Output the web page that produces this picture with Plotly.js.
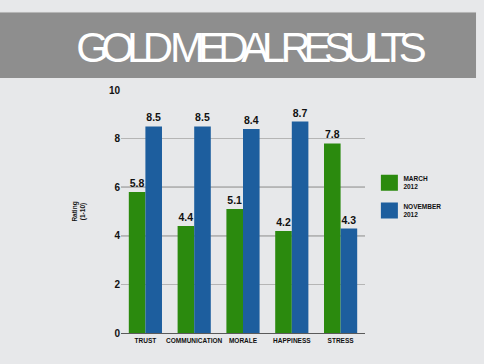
<!DOCTYPE html>
<html><head><meta charset="utf-8">
<script src="https://cdn.plot.ly/plotly-3.0.1.min.js"></script>
<style>html,body{margin:0;padding:0;background:#e7e8ea;}</style>
</head><body>
<div id="chart" style="width:484px;height:364px;"></div>
<script>
const categories = ["TRUST", "COMMUNICATION", "MORALE", "HAPPINESS", "STRESS"];
const march = [5.8, 4.4, 5.1, 4.2, 7.8];
const november = [8.5, 8.5, 8.4, 8.7, 4.3];
const seriesNames = ["MARCH<br>2012", "NOVEMBER<br>2012"];
const yTicks = [0, 2, 4, 6, 8, 10];
const darkGrid = [4, 6];

const FONT = "'Liberation Sans', Arial, sans-serif";
const GREEN = "#2b8a0e", BLUE = "#1d5e9e";

const mk = (name, vals, color, grp) => ({
  type: "bar", x: categories, y: vals, name: name, legendgroup: grp,
  marker: {color: color, line: {width: 0}},
  text: vals.map(v => v.toFixed(1)), textposition: "outside",
  textfont: {family: FONT, size: 10.5, color: "#111", weight: "bold"},
  cliponaxis: false, hoverinfo: "skip"
});

const shapes = [
  {type: "rect", xref: "paper", yref: "paper", x0: -0.5, x1: 1.455, y0: 1.049, y1: 1.321,
   fillcolor: "#8e8e8e", line: {width: 0}, layer: "below"},
  {type: "line", xref: "paper", yref: "paper", x0: -0.5, x1: 1.455, y0: 1.319, y1: 1.319,
   line: {color: "#b8b8b8", width: 1}, layer: "below"}
].concat(darkGrid.map(v => ({type: "line", xref: "paper", yref: "y", x0: 0, x1: 1, y0: v, y1: v,
   line: {color: "#5a5a5a", width: 1}, layer: "below"})));

const layout = {
  width: 484, height: 364,
  paper_bgcolor: "#e7e8ea", plot_bgcolor: "#e7e8ea",
  margin: {l: 121, r: 119, t: 90, b: 31},
  title: {text: "GOLD MEDAL RESULTS", x: 0.512, xanchor: "center", y: 0.87, yanchor: "middle",
          font: {family: "'Liberation Sans', Arial, sans-serif", size: 42, color: "#ffffff"}},
  barmode: "group", bargap: 0.32, bargroupgap: 0,
  showlegend: true,
  legend: {x: 1.018, y: 0.68, xanchor: "left", yanchor: "top", bgcolor: "rgba(0,0,0,0)",
           font: {family: FONT, size: 6.5, color: "#111", weight: "bold"},
           itemwidth: 30, traceorder: "grouped", tracegroupgap: 8},
  xaxis: {tickfont: {family: FONT, size: 6.5, color: "#111", weight: "bold"}, showgrid: false,
          showline: false, ticks: "", tickangle: 0, automargin: false, ticklabelstandoff: 2},
  yaxis: {range: [0, 10], tickvals: yTicks, ticktext: yTicks.map(String), showgrid: true,
          gridcolor: "#b5b5b5", gridwidth: 1, zeroline: true, zerolinecolor: "#5a5a5a", zerolinewidth: 1,
          tickfont: {family: FONT, size: 10, color: "#111", weight: "bold"}, ticks: "", automargin: false,
          title: {text: "Rating<br>(1-10)", standoff: 22, font: {family: FONT, size: 6.5, color: "#111", weight: "bold"}}},
  shapes: shapes
};

Plotly.newPlot("chart", [mk(seriesNames[0], march, GREEN, "a"), mk(seriesNames[1], november, BLUE, "b")], layout,
  {staticPlot: true, displayModeBar: false}).then(() => {
  const t = document.querySelector(".gtitle");
  if (t) { t.style.letterSpacing = "-7.4px"; }
  document.querySelectorAll(".legendpoints path").forEach(p => {
    p.setAttribute("d", "M-8.5,-8H8.5V8H-8.5Z");
  });
  document.querySelectorAll(".legendtext").forEach(tx => {
    tx.setAttribute("x", "34");
    tx.querySelectorAll("tspan").forEach(s => { if (s.hasAttribute("x")) s.setAttribute("x", "34"); });
  });
});
</script>
</body></html>
